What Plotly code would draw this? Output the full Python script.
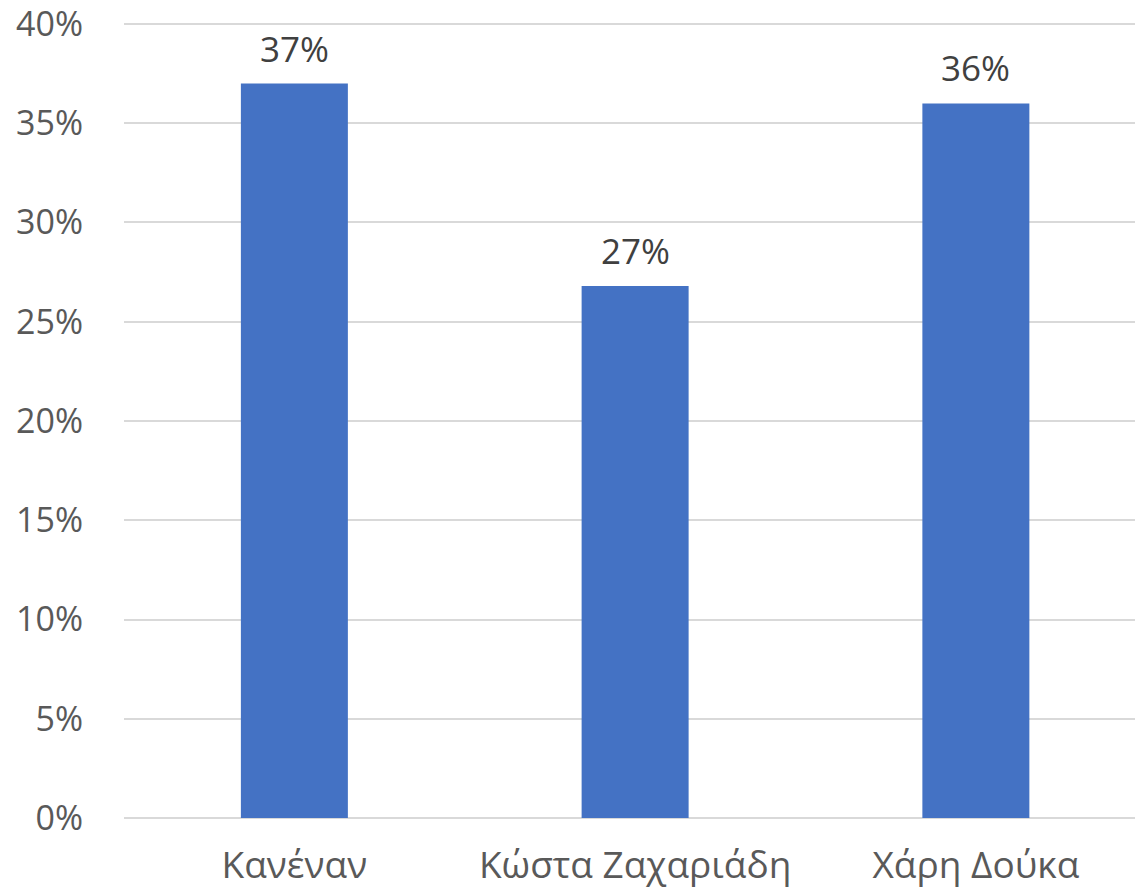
import plotly.graph_objects as go

categories = ["Κανέναν", "Κώστα Ζαχαριάδη", "Χάρη Δούκα"]
values = [37.0, 26.8, 36.0]
labels = ["37%", "27%", "36%"]
y_ticks = [0, 5, 10, 15, 20, 25, 30, 35, 40]
y_tick_text = ["0%", "5%", "10%", "15%", "20%", "25%", "30%", "35%", "40%"]

bar_color = "#4472C4"
font_family = "Open Sans, Noto Sans, sans-serif"

fig = go.Figure(go.Bar(
    x=categories,
    y=values,
    marker=dict(color=bar_color, line=dict(width=0)),
    width=0.314,
    hoverinfo="skip",
))

for cat, val, lab in zip(categories, values, labels):
    fig.add_annotation(
        x=cat, y=val, text=lab, showarrow=False,
        yanchor="bottom", yshift=10,
        font=dict(family=font_family, size=35, color="#404040"),
    )

fig.update_layout(
    width=1135,
    height=896,
    margin=dict(l=124, r=0, t=22, b=78),
    plot_bgcolor="white",
    paper_bgcolor="white",
    showlegend=False,
    font=dict(family=font_family, size=34, color="#595959"),
    xaxis=dict(
        range=[-0.5, 2.467],
        automargin=False,
        showgrid=False,
        showline=False,
        ticks="",
        tickfont=dict(size=37),
        ticklabelstandoff=22,
    ),
    yaxis=dict(
        range=[0, 40.1],
        automargin=False,
        tickmode="array",
        tickvals=y_ticks,
        ticktext=y_tick_text,
        ticklabeloverflow="allow",
        showgrid=True,
        gridcolor="#d9d9d9",
        gridwidth=1.5,
        zeroline=True,
        zerolinecolor="#d9d9d9",
        zerolinewidth=1.5,
        showline=False,
        ticks="",
        tickfont=dict(size=34),
        ticklabelstandoff=40,
    ),
)

# drop the default 8px page margin so the figure fills the window exactly
fig.write_html(
    "out.html",
    config={"displayModeBar": False},
    post_script="document.body.style.margin = '0';",
)
